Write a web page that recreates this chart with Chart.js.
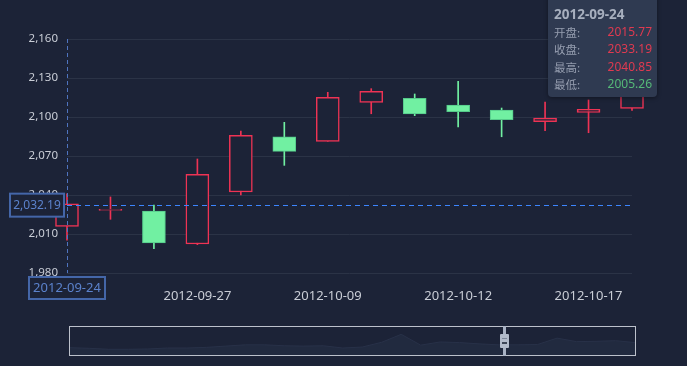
<!DOCTYPE html>
<html><head><meta charset="utf-8">
<script src="https://cdn.jsdelivr.net/npm/chart.js@4.4.1/dist/chart.umd.min.js"></script>
<style>
html,body{margin:0;padding:0;background:#1c2337;width:687px;height:366px;overflow:hidden;position:relative;font-family:"Noto Sans","Noto Sans CJK SC",sans-serif;}
#main{position:absolute;left:0;top:0;}
#tip{position:absolute;left:548px;top:-5px;width:109px;height:102px;background:#2f3a51;border-radius:4px;box-shadow:0 1px 4px rgba(0,0,0,0.4);}
.t{position:absolute;line-height:16px;height:16px;white-space:nowrap;}
.lab{left:554px;font-family:"Noto Sans CJK SC",sans-serif;font-size:11.5px;color:#959daf;}
.val{right:35px;font-size:12px;text-align:right;}
#dz{position:absolute;left:69px;top:326px;width:565px;height:28px;border:1px solid #bcc1cb;}
#mini{position:absolute;left:70px;top:327px;}
#hbar{position:absolute;left:503px;top:326px;width:3px;height:30px;background:#a9b2c4;}
#hrect{position:absolute;left:500px;top:334px;width:9px;height:14px;background:#b2bbcb;border-radius:1px;}
#hrect i{position:absolute;left:2px;width:5px;height:1px;background:#5a6478;}
</style>
</head><body>
<canvas id="main" width="687" height="366"></canvas>
<div id="dz"></div>
<canvas id="mini" width="565" height="28"></canvas>
<div id="hbar"></div>
<div id="hrect"><i style="top:4px;background:#7d879a"></i><i style="top:8px;height:2px;background:#3c4556"></i></div>
<div id="tip"></div>
<div id="tiptext"></div>
<script>
// ---- data ----
const categories = ['2012-09-24','2012-09-25','2012-09-26','2012-09-27','2012-09-28','2012-10-08','2012-10-09','2012-10-10','2012-10-11','2012-10-12','2012-10-15','2012-10-16','2012-10-17','2012-10-18'];
const openValues  = [2015.77, 2028.1, 2027.7, 2002.3, 2042.3, 2084.8, 2081.3, 2111.3, 2114.4, 2109.2, 2105.4, 2096.4, 2103.6, 2106.6];
const closeValues = [2033.19, 2029.0, 2003.1, 2055.9, 2085.9, 2073.6, 2115.2, 2119.8, 2102.3, 2104.1, 2097.9, 2099.2, 2105.9, 2128.0];
const highValues  = [2040.85, 2038.5, 2032.3, 2067.7, 2089.2, 2095.9, 2119.0, 2121.8, 2117.7, 2127.5, 2106.9, 2111.5, 2113.1, 2133.0];
const lowValues   = [2005.26, 2021.3, 1998.7, 2001.8, 2040.0, 2062.8, 2081.3, 2102.5, 2101.0, 2092.3, 2084.8, 2089.5, 2087.9, 2105.0];
const yTicks = [1980, 2010, 2040, 2070, 2100, 2130, 2160];
const pointerIndex = 0;
const pointerValue = 2032.19;
const tooltipLabels = ['开盘:', '收盘:', '最高:', '最低:'];
// overview (data zoom shadow) relative heights
const overviewValues = [23,21,18,18,19,22,22,24,28,32,32,29,28,29,22,25,40,65,31,41,39,35,32,32,33,53,42,43,45,39];

const BG = '#1c2337', RED = '#ee3354', GREEN = '#71f0a2', GREEN_B = '#55c98a';
const isUp = i => closeValues[i] >= openValues[i];

const pointerPlugin = {
  id: 'pointer',
  afterDraw(chart) {
    const ctx = chart.ctx, a = chart.chartArea;
    const xs = chart.scales.x, ys = chart.scales.y;
    const x0 = xs.getPixelForValue(pointerIndex);
    const yv = ys.getPixelForValue(pointerValue);
    ctx.save();
    ctx.lineWidth = 1;
    ctx.setLineDash([4, 3]);
    ctx.strokeStyle = '#4f74c0';
    ctx.beginPath(); ctx.moveTo(Math.round(x0) + 0.5, a.top); ctx.lineTo(Math.round(x0) + 0.5, a.bottom); ctx.stroke();
    ctx.setLineDash([5, 4]);
    ctx.lineWidth = 1;
    ctx.strokeStyle = '#3d86ff';
    ctx.beginPath(); ctx.moveTo(a.left, Math.round(yv) + 0.5); ctx.lineTo(a.right, Math.round(yv) + 0.5); ctx.stroke();
    ctx.setLineDash([]);
    // y label box
    const txt = pointerValue.toLocaleString('en-US', {minimumFractionDigits: 2});
    ctx.lineWidth = 2;
    ctx.strokeStyle = '#4466a8';
    ctx.fillStyle = BG;
    let bw = 54, bh = 23, bx = a.left - 3 - bw, by = yv - bh / 2;
    ctx.fillRect(bx, by, bw, bh); ctx.strokeRect(bx, by, bw, bh);
    ctx.fillStyle = '#5b82cc';
    ctx.font = '12px "Noto Sans"';
    ctx.textAlign = 'center'; ctx.textBaseline = 'middle';
    ctx.fillText(txt, bx + bw / 2, by + bh / 2 + 0.5);
    // x label box
    bw = 76; bh = 22; bx = x0 - bw / 2; by = a.bottom + 4;
    ctx.fillStyle = BG;
    ctx.fillRect(bx, by, bw, bh); ctx.strokeRect(bx, by, bw, bh);
    ctx.fillStyle = '#5b82cc';
    ctx.font = '13px "Noto Sans"';
    ctx.fillText(categories[pointerIndex], x0, by + bh / 2 + 0.5);
    ctx.restore();
  }
};

new Chart(document.getElementById('main'), {
  type: 'bar',
  data: {
    labels: categories,
    datasets: [
      {
        label: 'wick',
        data: categories.map((c, i) => [lowValues[i], highValues[i]]),
        backgroundColor: categories.map((c, i) => isUp(i) ? RED : GREEN),
        borderWidth: 0,
        barThickness: 1,
        grouped: false, order: 2, clip: false
      },
      {
        label: 'body',
        data: categories.map((c, i) => [openValues[i], closeValues[i]]),
        backgroundColor: categories.map((c, i) => isUp(i) ? BG : GREEN),
        borderColor: categories.map((c, i) => isUp(i) ? RED : GREEN_B),
        borderWidth: categories.map((c, i) => isUp(i) ? 1.5 : 1),
        borderSkipped: false,
        barThickness: 23,
        grouped: false, order: 1, clip: false
      }
    ]
  },
  options: {
    responsive: false, animation: false, devicePixelRatio: 1,
    layout: {padding: {left: 0, top: 39, right: 55, bottom: 63}},
    plugins: {legend: {display: false}, tooltip: {enabled: false}},
    scales: {
      x: {
        type: 'category', offset: false,
        grid: {display: false}, border: {display: false},
        ticks: {
          autoSkip: false, maxRotation: 0, minRotation: 0, padding: 7,
          color: '#c9cdd6', font: {family: 'Noto Sans', size: 13},
          callback: (v, i) => (i % 3 === 0 ? categories[i] : '')
        },
        afterFit: s => { s.height = 30; }
      },
      y: {
        min: yTicks[0], max: yTicks[yTicks.length - 1],
        afterBuildTicks: s => { s.ticks = yTicks.map(v => ({value: v})); },
        grid: {color: '#2b3346', drawTicks: false, lineWidth: 1},
        border: {display: false},
        ticks: {
          padding: 9, color: '#c9cdd6', font: {family: 'Noto Sans', size: 11.5},
          callback: v => Number(v).toLocaleString('en-US')
        },
        afterFit: s => { s.width = 67; }
      }
    }
  },
  plugins: [pointerPlugin]
});

// overview shadow
new Chart(document.getElementById('mini'), {
  type: 'line',
  data: {
    labels: overviewValues.map((v, i) => i),
    datasets: [{
      data: overviewValues,
      borderColor: '#283148', borderWidth: 1,
      backgroundColor: '#212a3f', fill: 'origin',
      pointRadius: 0, tension: 0
    }]
  },
  options: {
    responsive: false, animation: false, devicePixelRatio: 1,
    layout: {padding: 0},
    plugins: {legend: {display: false}, tooltip: {enabled: false}},
    scales: {
      x: {display: false, offset: false},
      y: {display: false, min: 0, max: 88}
    }
  }
});

// tooltip text
(function () {
  const box = document.getElementById('tiptext');
  const i = pointerIndex;
  const vals = [openValues[i], closeValues[i], highValues[i], lowValues[i]];
  let html = '<div class="t" style="left:554px;top:6px;font-weight:bold;font-size:13.5px;color:#a7afbe">' + categories[i] + '</div>';
  const tops = [24, 41, 59, 76];
  tooltipLabels.forEach((lab, k) => {
    const col = vals[k] >= openValues[i] ? '#e03a50' : '#55b978';
    html += '<div class="t lab" style="top:' + tops[k] + 'px">' + lab + '</div>';
    html += '<div class="t val" style="top:' + tops[k] + 'px;color:' + col + '">' + vals[k].toFixed(2) + '</div>';
  });
  box.innerHTML = html;
})();
</script>
</body></html>
